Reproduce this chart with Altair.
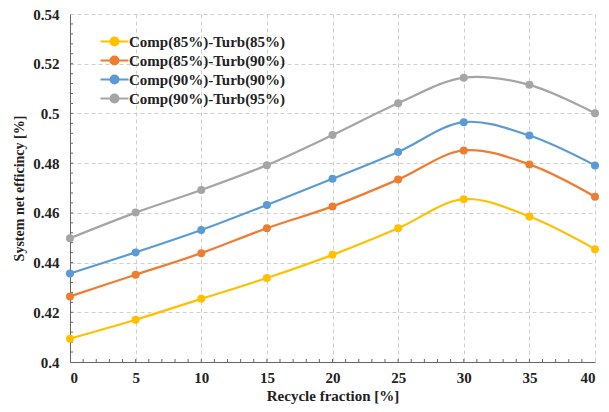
import altair as alt
import pandas as pd

recycle = [0, 5, 10, 15, 20, 25, 30, 35, 40]
series_names = ["Comp(85%)-Turb(85%)", "Comp(85%)-Turb(90%)", "Comp(90%)-Turb(90%)", "Comp(90%)-Turb(95%)"]
s1 = [0.4094, 0.4170, 0.4254, 0.4338, 0.4431, 0.4538, 0.4655, 0.4585, 0.4454]
s2 = [0.4264, 0.4351, 0.4438, 0.4538, 0.4626, 0.4734, 0.4851, 0.4795, 0.4665]
s3 = [0.4356, 0.4441, 0.4531, 0.4632, 0.4737, 0.4845, 0.4965, 0.4911, 0.4791]
s4 = [0.4498, 0.4601, 0.4692, 0.4792, 0.4913, 0.5041, 0.5144, 0.5115, 0.5001]
colors = ["#FFC000", "#ED7D31", "#5B9BD5", "#A5A5A5"]
y_major = [0.40, 0.42, 0.44, 0.46, 0.48, 0.50, 0.52, 0.54]
y_minor = [round(0.40 + 0.004 * i, 3) for i in range(1, 35)]
x_minor = list(range(1, 40))

H = 348
W = 525

rows = []
for name, vals in zip(series_names, [s1, s2, s3, s4]):
    for x, v in zip(recycle, vals):
        rows.append({"x": x, "y": v, "series": name})
df = pd.DataFrame(rows)
dfy = pd.DataFrame({"y": y_minor})
dfx = pd.DataFrame({"x": x_minor})

FONT = "Liberation Serif"
SYM = "M-2,0H2M0.56,0A0.56,0.56,0,1,1,-0.56,0A0.56,0.56,0,1,1,0.56,0Z"

legend = alt.Legend(title=None, orient="none", legendX=36, legendY=19,
                    labelFont=FONT, labelFontSize=15, labelFontWeight="bold",
                    labelColor="#222", symbolType=SYM, symbolStrokeWidth=2.2,
                    symbolSize=196, rowPadding=2, labelOffset=6)
cscale = alt.Scale(domain=series_names, range=colors)

xs = alt.Scale(domain=[0, 40], nice=False)
ys = alt.Scale(domain=[0.40, 0.54], nice=False, zero=False)

lines = alt.Chart(df).mark_line(interpolate="catmull-rom", strokeWidth=2.2).encode(
    x=alt.X("x:Q", scale=xs,
            axis=alt.Axis(title="Recycle fraction [%]", values=recycle, grid=True,
                          gridDash=[4, 3], gridColor="#cfcfcf", labelFont=FONT, labelFontSize=15,
                          labelFontWeight="bold", titleFont=FONT, titleFontSize=15,
                          titleFontWeight="bold", labelColor="#222", titleColor="#222",
                          domainColor="#666", ticks=False, labelPadding=8,
                          titlePadding=3)),
    y=alt.Y("y:Q", scale=ys,
            axis=alt.Axis(title="System net efficincy [%]", values=y_major, format=".2~f", grid=True,
                          gridDash=[4, 3], gridColor="#cfcfcf", labelFont=FONT, labelFontSize=15,
                          labelFontWeight="bold", titleFont=FONT, titleFontSize=14,
                          titleFontWeight="bold", labelColor="#222", titleColor="#222",
                          domainColor="#666", ticks=False, labelPadding=11,
                          titlePadding=6)),
    color=alt.Color("series:N", sort=series_names, scale=cscale, legend=legend),
)

points = alt.Chart(df).mark_point(filled=True, size=64, opacity=1).encode(
    x=alt.X("x:Q", scale=xs),
    y=alt.Y("y:Q", scale=ys),
    color=alt.Color("series:N", sort=series_names, scale=cscale, legend=legend),
)

yticks = alt.Chart(dfy).mark_rule(color="#666", strokeWidth=1).encode(
    y=alt.Y("y:Q", scale=ys),
    x=alt.value(0), x2=alt.value(3),
)
xticks = alt.Chart(dfx).mark_rule(color="#666", strokeWidth=1).encode(
    x=alt.X("x:Q", scale=xs),
    y=alt.value(H), y2=alt.value(H - 3),
)

chart = alt.layer(yticks, xticks, lines, points).properties(
    width=W, height=H,
    autosize=alt.AutoSizeParams(type="none"),
    padding={"left": 62, "top": 6, "right": 6, "bottom": 42},
).configure_view(stroke=None)

chart.save("out.html", embed_options={"renderer": "svg", "actions": False})
